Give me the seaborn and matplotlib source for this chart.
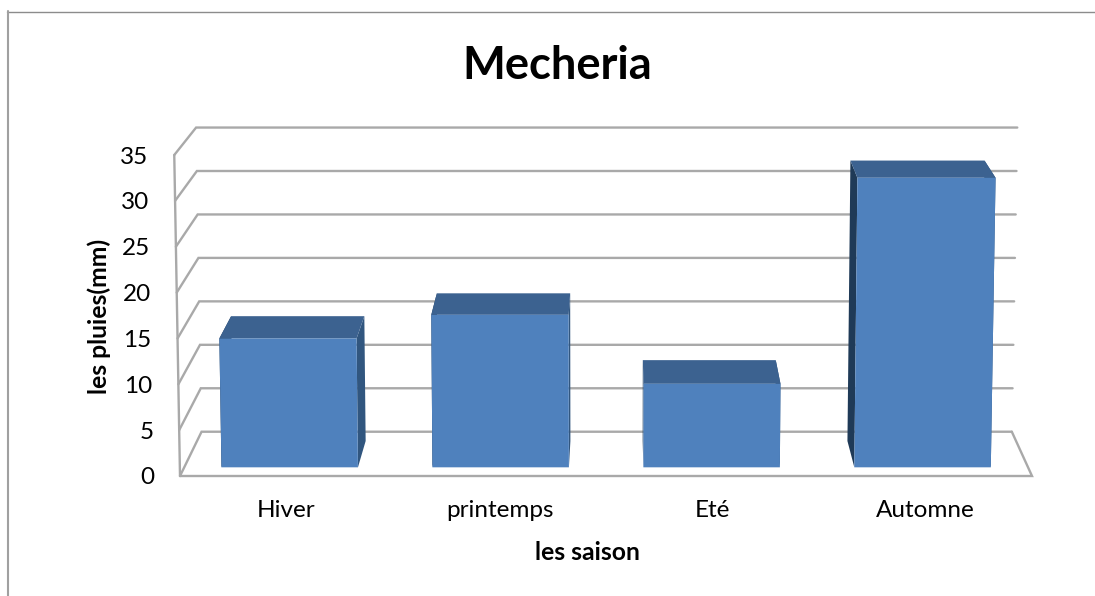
import numpy as np
import pandas as pd
import matplotlib
matplotlib.use("Agg")
import matplotlib.pyplot as plt
import seaborn as sns
from matplotlib.lines import Line2D
from matplotlib.patches import Polygon
from matplotlib.transforms import Transform, IdentityTransform, Affine2D

# --- data ---
saisons = ["Hiver", "printemps", "Eté", "Automne"]
pluies = [14.2, 16.8, 9.2, 31.9]
y_ticks = [0, 5, 10, 15, 20, 25, 30, 35]

W, H = 1095, 596
FRONT_BLUE = "#4F81BD"
TOP_BLUE = "#3C6290"
RIGHT_BLUE = "#31567F"
LEFT_BLUE = "#1F3A57"
GRID = "#A9A9A9"
TEXT = "#000000"
FONT = "Lato"
BAR_DEPTH_FRONT, BAR_DEPTH_BACK = 0.196, 0.79

sns.set_theme(style="white")
plt.rcParams["font.family"] = [FONT, "DejaVu Sans"]

fig = plt.figure(figsize=(W / 100, H / 100), dpi=100, facecolor="white")
L, R, T, B = 180, 1032, 155, 476
ax = fig.add_axes([L / W, 1 - B / H, (R - L) / W, (B - T) / H])
ax.patch.set_alpha(0)

df = pd.DataFrame({"saison": saisons, "pluie": pluies})
sns.barplot(data=df, x="saison", y="pluie", order=saisons, color=FRONT_BLUE,
            saturation=1, width=0.647, ax=ax, zorder=5)
ax.set_xlim(-0.5, 3.5)
ax.set_ylim(0, 35)


def project(x, v, depth):
    """Axis value + depth (0 front wall, 1 back wall) to display pixels."""
    x, v, depth = np.broadcast_arrays(np.asarray(x, float), np.asarray(v, float),
                                      np.asarray(depth, float))
    pts = ax.transData.transform(np.column_stack([x.ravel(), v.ravel()]))
    px, py = pts[:, 0], pts[:, 1]
    d = depth.ravel()
    px = 605 + (px - 605) * (1 + 0.0135 * v.ravel() / 35)      # keystone
    px = 620 + (px - 620) * (1 - 0.049 * d)                    # depth, x
    vp_y = H + 369
    py = vp_y + (py - vp_y) * (1 - 0.0524 * d)                 # depth, y
    return np.column_stack([px, py])


class DepthPlane(Transform):
    input_dims = output_dims = 2
    is_affine = False
    has_inverse = False

    def __init__(self, plane):
        super().__init__()
        self.plane = plane

    def transform_non_affine(self, values):
        values = np.asarray(values, float)
        return project(values[:, 0], values[:, 1], self.plane)


ident = IdentityTransform()

# walls and gridlines
for v in y_ticks:
    p = project([-0.5, -0.5, 3.5], [v, v, v], [0, 1, 1])
    ax.add_line(Line2D(p[:, 0], p[:, 1], color=GRID, lw=1.7, transform=ident,
                       clip_on=False, zorder=1, solid_joinstyle="miter"))
edge = project([-0.5, -0.5], [0, 35], 0)
ax.add_line(Line2D(edge[:, 0], edge[:, 1], color=GRID, lw=1.7, transform=ident,
                   clip_on=False, zorder=1))
floor = project([-0.5, 3.5, 3.5], [0, 0, 0], [0, 0, 1])
ax.add_line(Line2D(floor[:, 0], floor[:, 1], color=GRID, lw=1.7, transform=ident,
                   clip_on=False, zorder=1, solid_joinstyle="miter"))

# bars: seaborn draws the front faces; depth faces are built from each bar
for patch in list(ax.patches):
    x0, w, h = patch.get_x(), patch.get_width(), patch.get_height()
    x1 = x0 + w
    f, b = BAR_DEPTH_FRONT, BAR_DEPTH_BACK
    left = project([x0, x0, x0, x0], [0, h, h, 0], [f, f, b, b])
    right = project([x1, x1, x1, x1], [0, h, h, 0], [f, f, b, b])
    top = project([x0, x1, x1, x0], [h, h, h, h], [f, f, b, b])
    ax.add_patch(Polygon(left, closed=True, fc=LEFT_BLUE, ec="none", transform=ident,
                         clip_on=False, zorder=3))
    ax.add_patch(Polygon(right, closed=True, fc=RIGHT_BLUE, ec="none", transform=ident,
                         clip_on=False, zorder=3))
    ax.add_patch(Polygon(top, closed=True, fc=TOP_BLUE, ec="none", transform=ident,
                         clip_on=False, zorder=4))
    patch.set_transform(DepthPlane(f))
    patch.set_clip_on(False)
    patch.set_linewidth(0)

# axes text
sns.despine(ax=ax, left=True, bottom=True)
ax.set_yticks(y_ticks)
ax.set_yticklabels([str(t) for t in y_ticks])
ax.tick_params(axis="both", length=0, labelsize=17.5, labelcolor=TEXT)
ax.tick_params(axis="y", pad=18.5)
ax.tick_params(axis="x", pad=17.5)
for t, lbl in zip(y_ticks, ax.get_yticklabels()):
    lbl.set_transform(lbl.get_transform() + Affine2D().translate(-6 * t / 35, 0))

ax.set_xlabel("les saison", fontweight="bold", fontsize=17.8, color=TEXT, va="center")
ax.xaxis.set_label_coords((587 - L) / (R - L), (B - 552) / (B - T))
ax.set_ylabel("les pluies(mm)", fontweight="bold", fontsize=17.8, color=TEXT, va="center")
ax.yaxis.set_label_coords((99 - L) / (R - L), (B - 316) / (B - T))
ax.set_title("Mecheria", fontweight="bold", fontsize=32.7, color=TEXT,
             x=(557 - L) / (R - L), y=(B - 74) / (B - T), va="center")

# outer chart frame (cut off by the picture's edges)
fig.add_artist(Line2D([7, W], [H - 11.5, H - 11.5], color="#8C8C8C", lw=1, transform=ident))
fig.add_artist(Line2D([7.5, 7.5], [H - 11, 0], color="#A0A0A0", lw=1.5, transform=ident))

fig.savefig("out.png", dpi=100)
